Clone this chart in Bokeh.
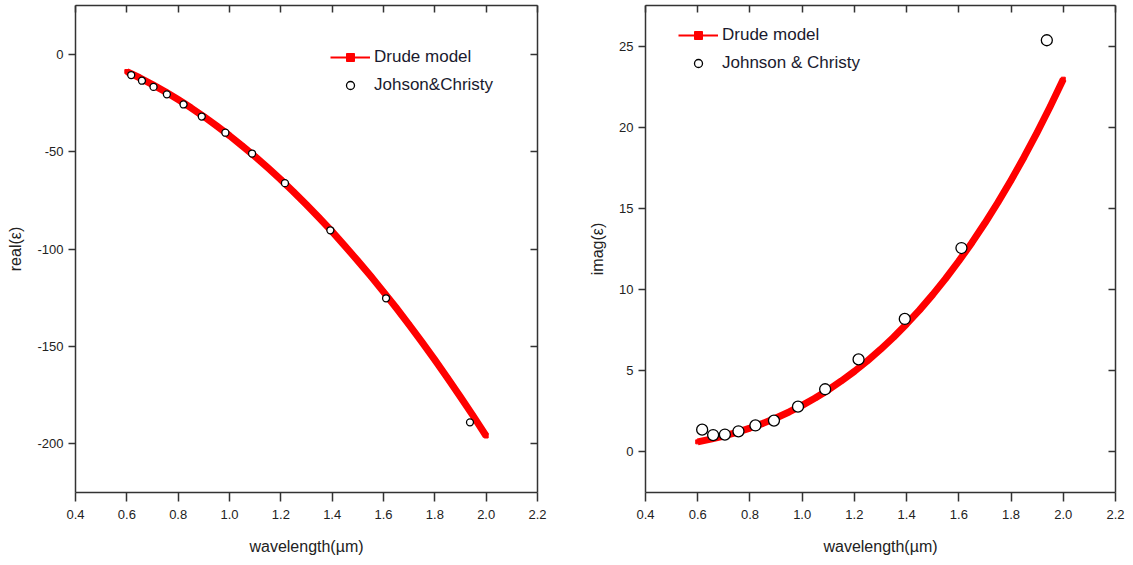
from bokeh.plotting import figure
from bokeh.layouts import row
from bokeh.models import LinearAxis, Legend, LegendItem, ColumnDataSource, FixedTicker
from bokeh.embed import file_html
from bokeh.resources import INLINE

# Drude model curve
drude_wl = [0.60, 0.65, 0.70, 0.75, 0.80, 0.85, 0.90, 0.95, 1.00, 1.05, 1.10, 1.15, 1.20, 1.25,
            1.30, 1.35, 1.40, 1.45, 1.50, 1.55, 1.60, 1.65, 1.70, 1.75, 1.80, 1.85, 1.90, 1.95, 2.00]
drude_real = [-8.9, -12.1, -15.6, -19.3, -23.3, -27.5, -32.0, -36.8, -41.8, -47.1, -52.6, -58.4,
              -64.4, -70.7, -77.3, -84.1, -91.1, -98.5, -106.1, -113.9, -122.0, -130.3, -138.9,
              -147.8, -156.9, -166.3, -176.0, -185.8, -196.0]
drude_imag = [0.62, 0.79, 0.98, 1.21, 1.47, 1.76, 2.09, 2.46, 2.87, 3.32, 3.82, 4.37, 4.96, 5.61,
              6.31, 7.06, 7.88, 8.75, 9.69, 10.69, 11.76, 12.89, 14.10, 15.38, 16.74, 18.17,
              19.69, 21.28, 22.96]

# Johnson & Christy points
jc_wl = [0.617, 0.659, 0.704, 0.756, 0.821, 0.892, 0.984, 1.088, 1.216, 1.393, 1.610, 1.937]
jc_real = [-10.7, -13.6, -16.8, -20.6, -25.8, -32.0, -40.3, -51.0, -66.2, -90.4, -125.3, -189.0]
jc_imag = [1.37, 1.04, 1.07, 1.27, 1.63, 1.93, 2.79, 3.86, 5.70, 8.19, 12.56, 25.36]

x_ticks = [0.4, 0.6, 0.8, 1.0, 1.2, 1.4, 1.6, 1.8, 2.0, 2.2]
left_y_ticks = [-200, -150, -100, -50, 0]
right_y_ticks = [0, 5, 10, 15, 20, 25]

FONT = "Liberation Sans"
AX = "#333333"
RED = "#ff0000"


def style_axis(ax, ticks, labels=True, inward=False, out_major=6, out_minor=3, standoff=5):
    ax.axis_line_color = AX
    ax.axis_line_width = 1.5
    ax.major_tick_line_color = AX
    ax.minor_tick_line_color = AX
    ax.major_tick_line_width = 1.5
    ax.minor_tick_line_width = 1.2
    if inward:
        ax.major_tick_in = 7
        ax.major_tick_out = 0
        ax.minor_tick_in = 3
        ax.minor_tick_out = 0
    else:
        ax.major_tick_in = 0
        ax.major_tick_out = out_major
        ax.minor_tick_in = 0
        ax.minor_tick_out = out_minor
    ax.major_label_text_font = FONT
    ax.major_label_text_font_size = "13px"
    ax.major_label_text_color = "#222222"
    if labels:
        ax.major_label_standoff = standoff
        ax.major_label_overrides = {t: (f"{t:.1f}" if isinstance(t, float) else str(t)) for t in ticks}
    else:
        ax.major_label_overrides = {t: "" for t in ticks}
        ax.major_label_standoff = 0
        ax.axis_label = None


def make_panel(ydata, jcy, yrange, yticks, ylabel, width, fw, legend_labels, legend_loc, jc_size, label_size):
    p = figure(width=width, height=560, x_range=(0.4, 2.2), y_range=yrange,
               output_backend="svg", toolbar_location=None,
               min_border_left=75, min_border_right=width - 75 - fw,
               min_border_top=5, min_border_bottom=68)
    p.grid.visible = False
    p.outline_line_color = None
    p.background_fill_color = "white"
    p.border_fill_color = "white"

    p.xaxis.ticker = FixedTicker(ticks=x_ticks, num_minor_ticks=2)
    p.yaxis.ticker = FixedTicker(ticks=yticks, num_minor_ticks=2)
    style_axis(p.xaxis[0], x_ticks, out_major=9, out_minor=5, standoff=8)
    style_axis(p.yaxis[0], yticks, out_major=7, out_minor=4, standoff=5)
    p.xaxis.axis_label = "wavelength(\u00b5m)"
    p.yaxis.axis_label = ylabel
    for ax in (p.xaxis[0], p.yaxis[0]):
        ax.axis_label_text_font = FONT
        ax.axis_label_text_font_style = "normal"
        ax.axis_label_text_font_size = "16px"
        ax.axis_label_text_color = "#222222"
    p.xaxis.axis_label_standoff = 16
    p.yaxis.axis_label_standoff = 10

    top = LinearAxis(ticker=FixedTicker(ticks=x_ticks, num_minor_ticks=2))
    style_axis(top, x_ticks, labels=False, inward=True)
    p.add_layout(top, "above")
    right = LinearAxis(ticker=FixedTicker(ticks=yticks, num_minor_ticks=2))
    style_axis(right, yticks, labels=False, inward=True)
    p.add_layout(right, "right")

    src = ColumnDataSource(dict(x=drude_wl, y=ydata))
    thin = p.line("x", "y", source=src, line_color=RED, line_width=2)
    sq = p.scatter("x", "y", source=src, marker="square", size=4, fill_color=RED, line_color=RED)
    p.line("x", "y", source=src, line_color=RED, line_width=7, line_join="round")

    jsrc = ColumnDataSource(dict(x=jc_wl, y=jcy))
    jc = p.scatter("x", "y", source=jsrc, marker="circle", size=jc_size,
                   fill_color="white", line_color="black", line_width=1.3)

    leg = Legend(items=[LegendItem(label=legend_labels[0], renderers=[thin, sq]),
                        LegendItem(label=legend_labels[1], renderers=[jc])],
                 location=legend_loc)
    leg.background_fill_alpha = 0
    leg.border_line_color = None
    leg.padding = 0
    leg.margin = 0
    leg.spacing = 8
    leg.glyph_width = 40
    leg.glyph_height = 20
    leg.label_height = 20
    leg.label_standoff = 4
    leg.label_text_font = FONT
    leg.label_text_font_size = label_size
    leg.label_text_color = "#1a1a2e"
    p.add_layout(leg, "center")
    return p


p1 = make_panel(drude_real, jc_real, (-225, 25), left_y_ticks, "real(\u03b5)", 570, 462,
                ["Drude model", "Johson&Christy"], (255, 397), 7, "17px")
p2 = make_panel(drude_imag, jc_imag, (-2.5, 27.5), right_y_ticks, "imag(\u03b5)", 563, 470,
                ["Drude model", "Johnson & Christy"], (33, 419), 11, "17px")

layout = row(p1, p2)
open("out.html", "w").write(file_html(layout, INLINE))
